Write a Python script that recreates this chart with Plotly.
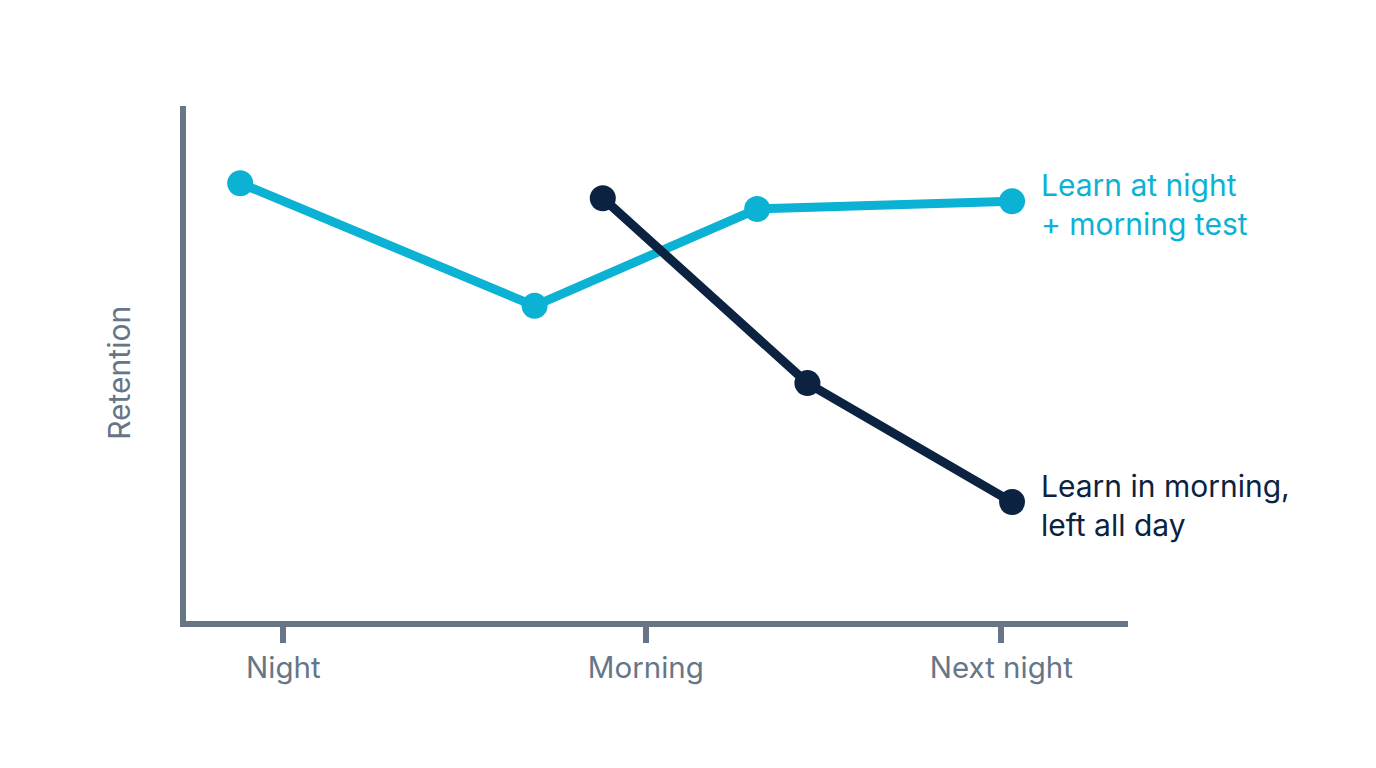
import plotly.graph_objects as go

# Dane (oś x: 0 = noc, ~1 = rano, 2 = następna noc)
tick_pos = [0, 1.01, 2]
tick_labels = ["Night", "Morning", "Next night"]

night_x = [-0.12, 0.70, 1.32, 2.03]
night_y = [85.0, 61.2, 80.0, 81.5]
night_name = "Learn at night<br>+ morning test"

morning_x = [0.89, 1.46, 2.03]
morning_y = [82.1, 46.2, 23.1]
morning_name = "Learn in morning,<br>left all day"

CYAN = "#0BB2D4"
NAVY = "#0B2340"
GREY = "#667686"
FONT = "Inter, Roboto, sans-serif"

fig = go.Figure()

for xs, ys, col in [(night_x, night_y, CYAN), (morning_x, morning_y, NAVY)]:
    fig.add_trace(go.Scatter(
        x=xs, y=ys, mode="lines+markers",
        line=dict(color=col, width=9),
        marker=dict(color=col, size=26),
        cliponaxis=False, showlegend=False, hoverinfo="skip",
    ))

# Etykiety serii przy ostatnim punkcie
for xs, ys, col, txt in [(night_x, night_y, CYAN, night_name),
                         (morning_x, morning_y, NAVY, morning_name)]:
    fig.add_annotation(
        x=xs[-1], y=ys[-1], xref="x", yref="y", text=txt,
        showarrow=False, xanchor="left", yanchor="middle", align="left",
        xshift=27, yshift=-3,
        font=dict(family=FONT, size=30, color=col),
    )

fig.add_annotation(
    x=0, y=0.482, xref="paper", yref="paper", text="Retention",
    showarrow=False, textangle=-90, xanchor="center", yanchor="middle",
    xshift=-67, font=dict(family=FONT, size=30, color=GREY),
)

fig.update_layout(
    width=1376, height=768,
    margin=dict(l=178, r=256, t=98, b=155),
    paper_bgcolor="white", plot_bgcolor="white",
    font=dict(family=FONT),
    xaxis=dict(
        range=[-0.271, 2.353], showgrid=False, zeroline=False,
        showline=True, linecolor=GREY, linewidth=6,
        tickmode="array", tickvals=tick_pos, ticktext=tick_labels,
        ticks="outside", ticklen=16, tickwidth=6, tickcolor=GREY,
        tickfont=dict(family=FONT, size=29.5, color=GREY),
    ),
    yaxis=dict(
        range=[0, 100], showgrid=False, zeroline=False,
        showline=True, linecolor=GREY, linewidth=6,
        showticklabels=False, ticks="",
    ),
)

fig.write_html("out.html")
